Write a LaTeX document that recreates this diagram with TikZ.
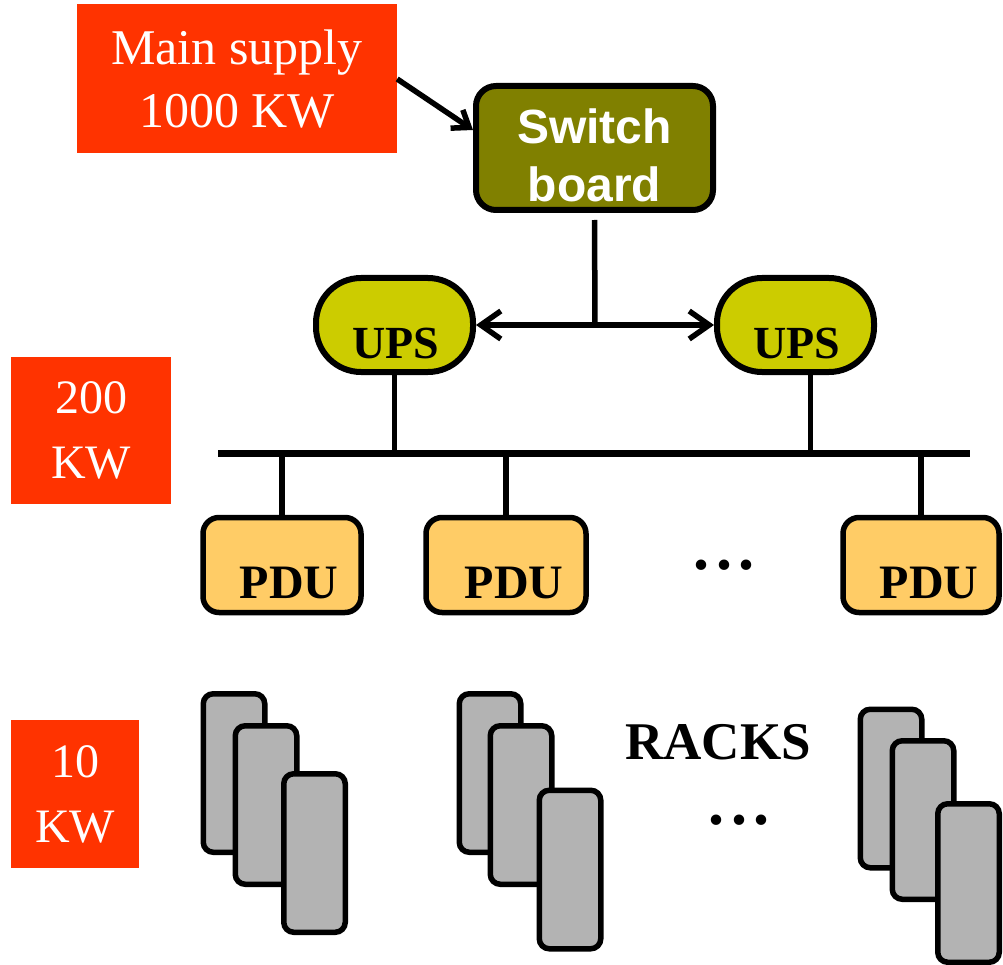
\documentclass[tikz,border=0pt]{standalone}
\usepackage{fontspec}
\setmainfont{Liberation Serif}
\newfontfamily\arialfont{Liberation Sans}
\usetikzlibrary{arrows.meta}
\definecolor{supplyred}{HTML}{FF3300}
\definecolor{olivebox}{HTML}{808000}
\definecolor{upsyellow}{HTML}{CCCC00}
\definecolor{pduorange}{HTML}{FFCC66}
\definecolor{rackgray}{HTML}{B3B3B3}
\tikzset{
  redlabel/.style={fill=supplyred, text=white, inner sep=0pt, align=center},
  switchbox/.style={draw=black, line width=6pt, fill=olivebox, rounded corners=20pt,
    minimum width=237pt, minimum height=124pt},
  switchtext/.style={text=white, align=center, inner sep=0pt,
    font=\arialfont\bfseries\fontsize{48}{58}\selectfont},
  upsbox/.style={draw=black, line width=6pt, fill=upsyellow, rounded corners=45pt,
    minimum width=157pt, minimum height=94pt},
  pdubox/.style={draw=black, line width=5.5pt, fill=pduorange, rounded corners=16pt,
    minimum width=158pt, minimum height=95pt},
  rackbox/.style={draw=black, line width=5.5pt, fill=rackgray, rounded corners=10pt,
    minimum width=61.5pt, minimum height=158.5pt},
  boxtext/.style={font=\bfseries\fontsize{46}{50}\selectfont, text=black, inner sep=0pt},
  dotstext/.style={font=\bfseries\fontsize{64}{64}\selectfont, text=black, inner sep=0pt},
  conn/.style={draw=black, line width=5.5pt},
}
\begin{document}
\begin{tikzpicture}[x=1pt,y=-1pt]
\useasboundingbox (0,0) rectangle (1003,965);

% left labels
\node[redlabel, minimum width=320pt, minimum height=149pt,
  font=\fontsize{50}{63}\selectfont] (main) at (237,79) {Main supply\\1000 KW};
\node[redlabel, minimum width=160pt, minimum height=147pt,
  font=\fontsize{48}{65}\selectfont] (kw200) at (91,430) {200\\KW};
\node[redlabel, minimum width=128pt, minimum height=148pt,
  font=\fontsize{48}{65}\selectfont] (kw10) at (75,794) {10\\KW};

% switch board
\node[switchbox] (sb) at (594.5,148) {};
\node[switchtext] (sbt) at (594.5,155) {Switch\\board};

% UPS
\node[upsbox] (ups1) at (394.5,325) {};
\node[upsbox] (ups2) at (795.5,325) {};
\node[boxtext] (ups1t) at (396,343) {UPS};
\node[boxtext] (ups2t) at (797,343) {UPS};

% bus
\coordinate (busL) at (218,453);
\coordinate (busR) at (970,453);
\draw[line width=7pt] (busL) -- (busR);

% PDUs
\node[pdubox] (pdu1) at (282,565) {};
\node[pdubox, minimum width=160pt] (pdu2) at (506,565) {};
\node[pdubox, minimum width=156pt] (pdu3) at (921,565) {};
\node[boxtext, font=\bfseries\fontsize{48}{50}\selectfont] (pdu1t) at (289,583) {PDU};
\node[boxtext, font=\bfseries\fontsize{48}{50}\selectfont] (pdu2t) at (514,583) {PDU};
\node[boxtext, font=\bfseries\fontsize{48}{50}\selectfont] (pdu3t) at (929,583) {PDU};
\node[dotstext] (pdudots) at (724,565) {.\hspace{0.1em}.\hspace{0.1em}.};

% racks
\node[rackbox] (r1a) at (234,773) {};
\node[rackbox] (r1b) at (266,805) {};
\node[rackbox] (r1c) at (314.5,853) {};
\node[rackbox] (r2a) at (490,773) {};
\node[rackbox] (r2b) at (521,805) {};
\node[rackbox] (r2c) at (570,869.5) {};
\node[rackbox] (r3a) at (891,788.5) {};
\node[rackbox] (r3b) at (923,820) {};
\node[rackbox] (r3c) at (968.5,883) {};
\node[boxtext, font=\bfseries\fontsize{53}{53}\selectfont] (racks) at (718,742) {RACKS};
\node[dotstext] (rackdots) at (739,820) {.\hspace{0.1em}.\hspace{0.1em}.};

% connectors
\draw[conn, -{Straight Barb[length=15pt,width=22pt]}] (main.east) -- ([yshift=18pt]sb.west);
\coordinate (junc) at (595,324);
\draw[conn] ([yshift=-7pt]sb.south) -- (junc);
\draw[conn, {Straight Barb[length=20pt,width=28pt]}-{Straight Barb[length=20pt,width=28pt]}] (ups1.east) -- (ups2.west);
\draw[conn] (ups1.south) -- (ups1.south |- busL);
\draw[conn] ([xshift=15pt]ups2.south) -- ([xshift=15pt]ups2.south |- busL);
\draw[conn] (pdu1.north) -- (pdu1.north |- busL);
\draw[conn] (pdu2.north) -- (pdu2.north |- busL);
\draw[conn] (pdu3.north) -- (pdu3.north |- busL);
\end{tikzpicture}
\end{document}
